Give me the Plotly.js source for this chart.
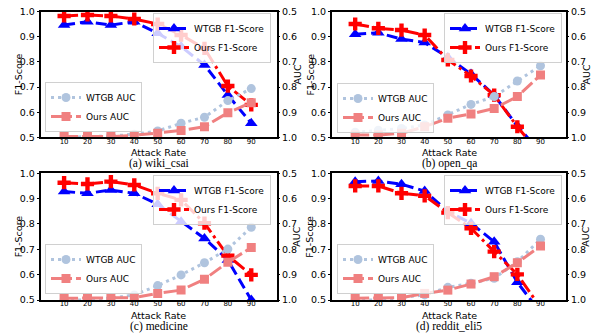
<!DOCTYPE html>
<html>
<head>
<meta charset="utf-8">
<script src="https://cdn.plot.ly/plotly-3.0.1.min.js"></script>
<style>html,body{margin:0;padding:0;background:#fff;}#chart{width:597px;height:333px;}</style>
</head>
<body>
<div id="chart"></div>
<script>
const attackRate = [10, 20, 30, 40, 50, 60, 70, 80, 90];
const xTickLabels = ['10', '20', '30', '40', '50', '60', '70', '80', '90'];
const panelCaptions = ['(a) wiki_csai', '(b) open_qa', '(c) medicine', '(d) reddit_eli5'];
const seriesNames = ['WTGB F1-Score', 'Ours F1-Score', 'WTGB AUC', 'Ours AUC'];

// (a) wiki_csai
const wikiWtgbF1 = [0.947, 0.960, 0.947, 0.960, 0.914, 0.861, 0.788, 0.668, 0.556];
const wikiOursF1 = [0.983, 0.987, 0.983, 0.971, 0.951, 0.907, 0.854, 0.704, 0.629];
const wikiWtgbAuc = [1.000, 0.997, 0.995, 0.988, 0.975, 0.944, 0.920, 0.854, 0.806];
const wikiOursAuc = [0.997, 0.997, 0.997, 0.992, 0.984, 0.973, 0.958, 0.902, 0.862];
// (b) open_qa
const openWtgbF1 = [0.910, 0.916, 0.891, 0.877, 0.818, 0.752, 0.668, 0.545, 0.440];
const openOursF1 = [0.951, 0.934, 0.927, 0.907, 0.808, 0.744, 0.668, 0.542, 0.430];
const openWtgbAuc = [0.980, 0.972, 0.965, 0.951, 0.911, 0.869, 0.838, 0.776, 0.715];
const openOursAuc = [0.991, 0.991, 0.984, 0.958, 0.924, 0.907, 0.885, 0.838, 0.752];
// (c) medicine
const medWtgbF1 = [0.928, 0.921, 0.934, 0.921, 0.878, 0.809, 0.743, 0.658, 0.500];
const medOursF1 = [0.963, 0.958, 0.967, 0.954, 0.921, 0.895, 0.803, 0.675, 0.599];
const medWtgbAuc = [1.000, 1.000, 0.993, 0.980, 0.943, 0.901, 0.853, 0.799, 0.713];
const medOursAuc = [0.993, 0.993, 0.991, 0.991, 0.974, 0.961, 0.918, 0.851, 0.793];
// (d) reddit_eli5
const redWtgbF1 = [0.967, 0.970, 0.957, 0.930, 0.849, 0.803, 0.730, 0.570, 0.450];
const redOursF1 = [0.950, 0.950, 0.921, 0.911, 0.845, 0.783, 0.691, 0.601, 0.470];
const redWtgbAuc = [1.000, 1.000, 0.990, 0.980, 0.950, 0.934, 0.914, 0.849, 0.760];
const redOursAuc = [0.993, 0.993, 0.991, 0.974, 0.961, 0.937, 0.908, 0.853, 0.787];

const panels = [
  [wikiWtgbF1, wikiOursF1, wikiWtgbAuc, wikiOursAuc],
  [openWtgbF1, openOursF1, openWtgbAuc, openOursAuc],
  [medWtgbF1, medOursF1, medWtgbAuc, medOursAuc],
  [redWtgbF1, redOursF1, redWtgbAuc, redOursAuc]
];

const W = 597, H = 333;
// plot areas in pixels: [left, right, top, bottom]
const boxes = [
  [40.7, 277, 11.7, 137.3],
  [332, 566, 11.7, 137.3],
  [40.7, 277, 173.3, 300],
  [332, 566, 173.3, 300]
];
const styles = [
  {color: '#0000ff', dash: '11px,5px', symbol: 'triangle-up', size: 11, width: 3},
  {color: '#ff0000', dash: '14px,4px,3px,4px', symbol: 'cross', size: 11, width: 3},
  {color: '#b0c4de', dash: '3px,4px', symbol: 'circle', size: 9, width: 3},
  {color: '#f08080', dash: '14px,4px,3px,4px', symbol: 'square', size: 9, width: 3}
];
// legend anchors in px: upper legend [right, top], lower legend [left, bottom]
const legendPos = [
  [[271, 13], [45, 132]],
  [[562, 13], [337, 133]],
  [[271, 175], [45, 294]],
  [[562, 175], [337, 294]]
];

const traces = [];
const layout = {
  width: W, height: H,
  margin: {l: 0, r: 0, t: 0, b: 0},
  paper_bgcolor: '#fff', plot_bgcolor: '#fff',
  font: {family: 'DejaVu Sans', color: '#000'},
  annotations: []
};
const font = {family: 'DejaVu Sans', size: 9.5, color: '#000'};
function ann(text, xpx, ypx, extra) {
  layout.annotations.push(Object.assign({
    text: text, xref: 'paper', yref: 'paper', x: xpx / W, y: (H - ypx) / H,
    xanchor: 'center', yanchor: 'middle', showarrow: false,
    font: {family: font.family, size: font.size, color: font.color}
  }, extra || {}));
}

panels.forEach((series, p) => {
  const [l, r, t, b] = boxes[p];
  const xa = p === 0 ? 'xaxis' : 'xaxis' + (p + 1);
  const xid = p === 0 ? 'x' : 'x' + (p + 1);
  const yl = 2 * p + 1, yr = 2 * p + 2;
  const ylid = yl === 1 ? 'y' : 'y' + yl;
  const yrid = 'y' + yr;
  const yla = yl === 1 ? 'yaxis' : 'yaxis' + yl;
  const yra = 'yaxis' + yr;
  const xdom = [l / W, r / W];
  const ydom = [(H - b) / H, (H - t) / H];
  layout[xa] = {
    domain: xdom, anchor: ylid, range: [0, 101],
    tickvals: attackRate, ticktext: xTickLabels,
    tickfont: {family: 'DejaVu Sans', size: 7, color: '#000'},
    showline: true, linecolor: '#000', linewidth: 2, mirror: true,
    ticks: '', ticklabelstandoff: -4, showgrid: false, zeroline: false
  };
  layout[yla] = {
    domain: ydom, anchor: xid, range: [0.5, 1.0],
    tickvals: [0.5, 0.6, 0.7, 0.8, 0.9, 1.0], tickformat: '.1f',
    tickfont: font, showline: true, linecolor: '#000', linewidth: 2, mirror: true,
    ticks: 'outside', ticklen: 2, tickwidth: 1, tickcolor: '#000',
    showgrid: false, zeroline: false
  };
  layout[yra] = {
    overlaying: ylid, anchor: xid, side: 'right', range: [1.0, 0.5],
    tickvals: [0.5, 0.6, 0.7, 0.8, 0.9, 1.0], tickformat: '.1f',
    tickfont: font, showline: false,
    ticks: 'outside', ticklen: 2, tickwidth: 1, tickcolor: '#000',
    showgrid: false, zeroline: false
  };
  const lg1 = p === 0 ? 'legend' : 'legend' + (2 * p + 1);
  const lg2 = 'legend' + (2 * p + 2);
  series.forEach((vals, k) => {
    const s = styles[k];
    traces.push({
      x: attackRate, y: vals, xaxis: xid, yaxis: k < 2 ? ylid : yrid,
      type: 'scatter', mode: 'lines+markers', name: seriesNames[k],
      legend: k < 2 ? lg1 : lg2,
      line: {color: s.color, dash: s.dash, width: s.width},
      marker: {color: s.color, symbol: s.symbol, size: s.size, line: {width: 0}},
      cliponaxis: true
    });
  });
  const [p1, p2] = legendPos[p];
  const lgStyle = {
    font: {family: 'DejaVu Sans', size: 9, color: '#000'},
    bgcolor: 'rgba(255,255,255,0.8)', bordercolor: '#d0d0d0', borderwidth: 1,
    itemwidth: 30, tracegroupgap: 0, traceorder: 'normal'
  };
  layout[lg1] = Object.assign({}, lgStyle, {x: p1[0] / W, y: (H - p1[1]) / H, xanchor: 'right', yanchor: 'top'});
  layout[lg2] = Object.assign({}, lgStyle, {x: p2[0] / W, y: (H - p2[1]) / H, xanchor: 'left', yanchor: 'bottom'});
  const cx = (l + r) / 2;
  ann('Attack Rate', cx, b + 15.5);
  ann(panelCaptions[p], cx, b + 26.5, {font: {family: 'Liberation Serif', size: 11.5, color: '#000'}});
  ann('F1-Score', l - 22, (t + b) / 2, {textangle: -90});
  ann('AUC', r + 20, (t + b) / 2, {textangle: -90});
});

Plotly.newPlot('chart', traces, layout, {displayModeBar: false, staticPlot: true});
</script>
</body>
</html>
